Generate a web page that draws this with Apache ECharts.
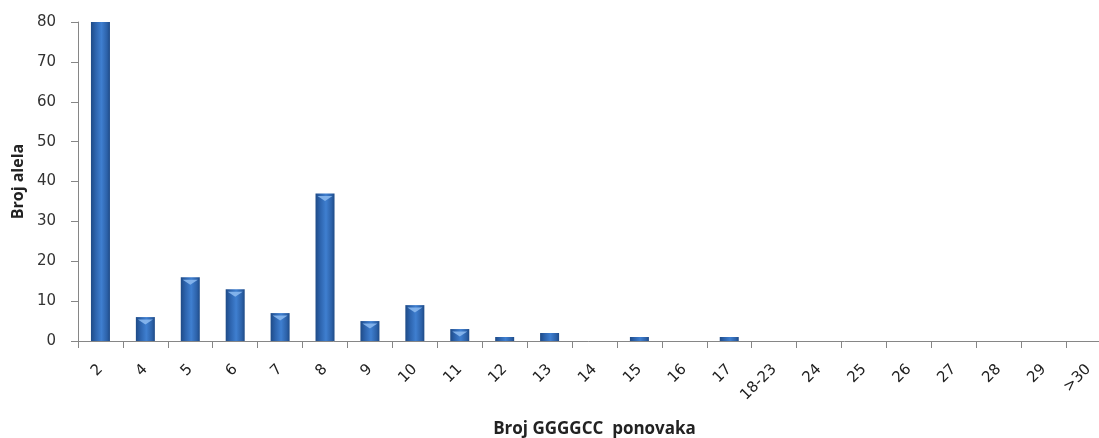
<!DOCTYPE html>
<html><head><meta charset="utf-8">
<script src="https://cdn.jsdelivr.net/npm/echarts@6/dist/echarts.min.js"></script>
<style>html,body{margin:0;padding:0;background:#fff}#c{width:1099px;height:438px}</style>
</head><body><div id="c"></div>
<script>
const categories = ['2','4','5','6','7','8','9','10','11','12','13','14','15','16','17','18-23','24','25','26','27','28','29','>30'];
const values = [80,6,16,13,7,37,5,9,3,1,2,0,1,0,1,0,0,0,0,0,0,0,0];
const yTicks = {min:0, max:80, interval:10};
const xTitle = 'Broj GGGGCC  ponovaka';
const yTitle = 'Broj alela';

const chart = echarts.init(document.getElementById('c'));
chart.setOption({
  animation:false,
  grid:{left:78, right:-12, top:22, bottom:97, containLabel:false, outerBoundsMode:'none'},
  xAxis:{
    type:'category', data:categories,
    axisLine:{lineStyle:{color:'#868686', width:1}},
    axisTick:{show:true, length:7, alignWithLabel:false, lineStyle:{color:'#868686'}},
    axisLabel:{rotate:45, margin:26, fontFamily:'DejaVu Sans', fontSize:15, color:'#222', interval:0},
    name:xTitle, nameLocation:'middle', nameGap:80,
    nameTextStyle:{fontFamily:'Open Sans', fontWeight:'bold', fontSize:17, color:'#222'}
  },
  yAxis:{
    type:'value', min:yTicks.min, max:yTicks.max, interval:yTicks.interval,
    splitLine:{show:false},
    axisLine:{show:true, lineStyle:{color:'#868686'}},
    axisTick:{show:true, length:7, lineStyle:{color:'#868686'}},
    axisLabel:{margin:22, fontFamily:'DejaVu Sans', fontSize:15, color:'#333'},
    name:yTitle, nameLocation:'middle', nameGap:52, nameRotate:90,
    nameTextStyle:{fontFamily:'Open Sans', fontWeight:'bold', fontSize:16, color:'#222'}
  },
  series:[{
    type:'bar', data:values.map(v=>v===0?null:v), barWidth:19, barGap:'-100%',
    itemStyle:{
      color:new echarts.graphic.LinearGradient(0,0,1,0,[
        {offset:0,color:'#1e4a86'},{offset:0.25,color:'#2d64ae'},{offset:0.55,color:'#3f7fd0'},{offset:0.85,color:'#2c61a8'},{offset:1,color:'#1e4a86'}])
    }
  },{
    type:'pictorialBar', data:values.map(v=>(v>=3&&v<yTicks.max)?v:null), barWidth:19, barGap:'-100%',
    symbol:'path://M0,0 L10,0 L5,4 Z', symbolSize:[15,5], symbolPosition:'end', symbolOffset:[0,'50%'],
    itemStyle:{color:'#8ab8ee', opacity:0.9}, z:3, silent:true
  }]
});
</script></body></html>
